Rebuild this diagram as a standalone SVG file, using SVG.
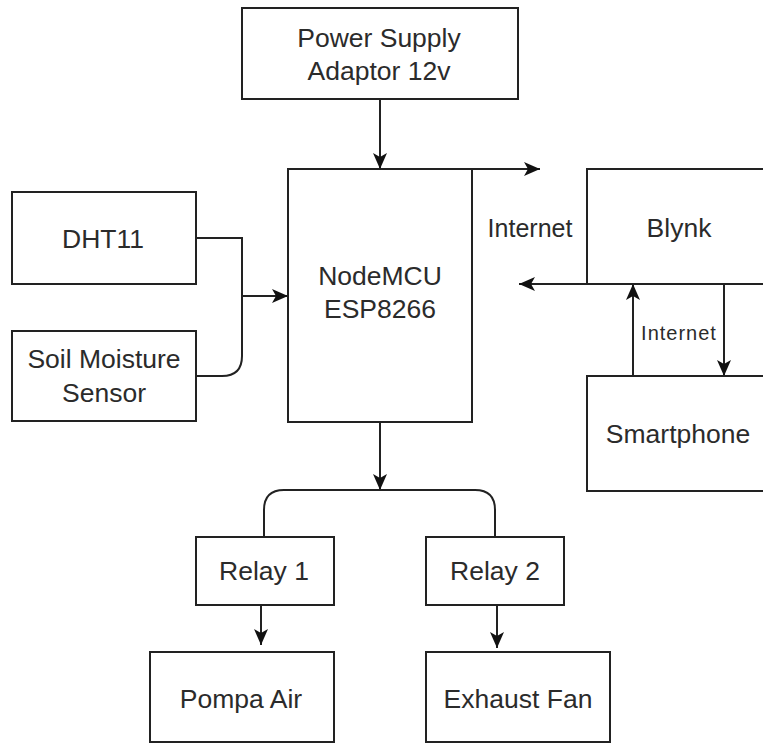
<svg xmlns="http://www.w3.org/2000/svg" width="763" height="743" viewBox="0 0 763 743">
<style>
.box{fill:#fff;stroke:#222;stroke-width:2}
.t{font-family:"Liberation Sans",Arial,sans-serif;font-size:26.5px;fill:#2b2b2b;text-anchor:middle}
.lbl{font-family:"Liberation Sans",Arial,sans-serif;font-size:25px;fill:#2b2b2b;text-anchor:middle}
.sl{font-family:"Liberation Sans",Arial,sans-serif;font-size:20px;letter-spacing:1px;fill:#2b2b2b;text-anchor:middle}
.c{fill:none;stroke:#222;stroke-width:2}
.a{marker-end:url(#arr)}
</style>
<defs>
<marker id="arr" markerUnits="userSpaceOnUse" markerWidth="16" markerHeight="14" refX="16" refY="7" orient="auto">
<path d="M0,0 L16,7 L0,14 L4,7 z" fill="#111"/>
</marker>
</defs>
<rect width="763" height="743" fill="#fff"/>
<g id="connectors">
<path class="c a" d="M380,99 V169"/>
<path class="c a" d="M472,169 H540"/>
<path class="c a" d="M771,284 H519"/>
<path class="c a" d="M633,376 V284"/>
<path class="c a" d="M724,284 V376"/>
<path class="c a" d="M196,238 H242 V296 H288"/>
<path class="c" d="M196,376 H222 Q242,376 242,356 V296"/>
<path class="c a" d="M380,422 V490"/>
<path class="c" d="M264,537 V510 Q264,490 284,490 H475 Q495,490 495,510 V537"/>
<path class="c a" d="M261,605 V645"/>
<path class="c a" d="M497,605 V648"/>
</g>
<g id="power"><rect class="box" x="242" y="8" width="276" height="91"/><text class="t" x="379" y="47">Power Supply</text><text class="t" x="379" y="80">Adaptor 12v</text></g>
<g id="nodemcu"><rect class="box" x="288" y="169" width="184" height="253"/><text class="t" x="380" y="285">NodeMCU</text><text class="t" x="380" y="318">ESP8266</text></g>
<g id="dht11"><rect class="box" x="12" y="192" width="184" height="92"/><text class="t" x="103" y="248">DHT11</text></g>
<g id="soil"><rect class="box" x="12" y="331" width="184" height="90"/><text class="t" x="104" y="368">Soil Moisture</text><text class="t" x="104" y="402">Sensor</text></g>
<g id="blynk"><rect class="box" x="587" y="169" width="184" height="115"/><text class="t" x="679" y="237">Blynk</text></g>
<g id="smartphone"><rect class="box" x="587" y="376" width="184" height="115"/><text class="t" x="678" y="443">Smartphone</text></g>
<g id="relay1"><rect class="box" x="196" y="537" width="138" height="68"/><text class="t" x="264" y="580">Relay 1</text></g>
<g id="relay2"><rect class="box" x="426" y="537" width="138" height="68"/><text class="t" x="495" y="580">Relay 2</text></g>
<g id="pompa"><rect class="box" x="150" y="652" width="184" height="90"/><text class="t" x="241" y="708">Pompa Air</text></g>
<g id="exhaust"><rect class="box" x="426" y="652" width="184" height="90"/><text class="t" x="518" y="708">Exhaust Fan</text></g>
<g id="labels"><text class="lbl" x="530" y="237">Internet</text><text class="sl" x="679" y="340">Internet</text></g>
</svg>
